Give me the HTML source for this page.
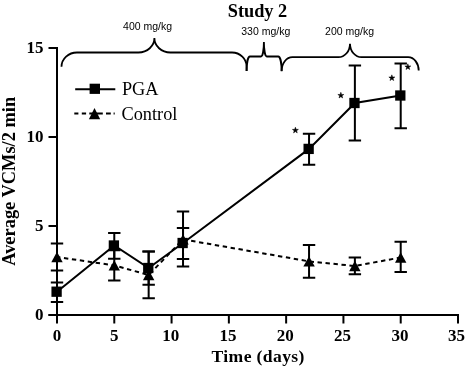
<!DOCTYPE html>
<html><head><meta charset="utf-8"><style>
html,body{margin:0;padding:0;background:#fff;}
svg{display:block;filter:grayscale(1);}
</style></head><body>
<svg width="466" height="366" viewBox="0 0 466 366">
<rect width="466" height="366" fill="#fff"/>
<g stroke="#000" stroke-width="2.0" fill="none" stroke-linecap="butt">
<path d="M57.00,47.0 V315.0 M48.5,315.0 H459.00"/>
<path d="M48.5,315.00 H57.0"/>
<path d="M48.5,226.00 H57.0"/>
<path d="M48.5,137.00 H57.0"/>
<path d="M48.5,48.00 H57.0"/>
<path d="M57.00,315.0 V323.5"/>
<path d="M114.28,315.0 V323.5"/>
<path d="M171.57,315.0 V323.5"/>
<path d="M228.86,315.0 V323.5"/>
<path d="M286.14,315.0 V323.5"/>
<path d="M343.43,315.0 V323.5"/>
<path d="M400.71,315.0 V323.5"/>
<path d="M458.00,315.0 V323.5"/>
</g>
<path d="M57.00,243.60 V270.40 M50.80,243.60 h12.4 M50.80,270.40 h12.4 M114.28,250.30 V280.50 M108.08,250.30 h12.4 M108.08,280.50 h12.4 M148.66,251.60 V298.30 M142.46,251.60 h12.4 M142.46,298.30 h12.4 M183.03,211.60 V266.50 M176.83,211.60 h12.4 M176.83,266.50 h12.4 M309.05,245.00 V277.70 M302.85,245.00 h12.4 M302.85,277.70 h12.4 M354.88,257.40 V274.30 M348.68,257.40 h12.4 M348.68,274.30 h12.4 M400.71,241.70 V272.00 M394.51,241.70 h12.4 M394.51,272.00 h12.4" stroke="#000" stroke-width="2.0" fill="none"/>
<path d="M57.00,282.50 V302.00 M50.80,282.50 h12.4 M50.80,302.00 h12.4 M114.28,232.90 V258.80 M108.08,232.90 h12.4 M108.08,258.80 h12.4 M148.66,251.60 V284.80 M142.46,251.60 h12.4 M142.46,284.80 h12.4 M183.03,228.00 V259.00 M176.83,228.00 h12.4 M176.83,259.00 h12.4 M309.05,133.80 V164.80 M302.85,133.80 h12.4 M302.85,164.80 h12.4 M354.88,65.60 V140.50 M348.68,65.60 h12.4 M348.68,140.50 h12.4 M400.71,63.60 V128.20 M394.51,63.60 h12.4 M394.51,128.20 h12.4" stroke="#000" stroke-width="2.0" fill="none"/>
<polyline points="57.00,257.00 114.28,265.40 148.66,275.00 183.03,239.40 309.05,261.40 354.88,266.00 400.71,257.50" fill="none" stroke="#000" stroke-width="2.0" stroke-dasharray="4.4 3.615" stroke-dashoffset="1"/>
<polyline points="57.00,291.70 114.28,245.50 148.66,268.00 183.03,243.00 309.05,148.90 354.88,103.00 400.71,95.50" fill="none" stroke="#000" stroke-width="2.0"/>
<path d="M57.00,251.80 L62.70,262.20 L51.30,262.20Z" fill="#000"/>
<path d="M114.28,260.20 L119.98,270.60 L108.58,270.60Z" fill="#000"/>
<path d="M148.66,269.80 L154.36,280.20 L142.96,280.20Z" fill="#000"/>
<path d="M183.03,234.20 L188.73,244.60 L177.33,244.60Z" fill="#000"/>
<path d="M309.05,256.20 L314.75,266.60 L303.35,266.60Z" fill="#000"/>
<path d="M354.88,260.80 L360.58,271.20 L349.18,271.20Z" fill="#000"/>
<path d="M400.71,252.30 L406.41,262.70 L395.01,262.70Z" fill="#000"/>
<rect x="51.45" y="286.55" width="10.3" height="10.3" fill="#000"/>
<rect x="108.73" y="240.35" width="10.3" height="10.3" fill="#000"/>
<rect x="143.11" y="262.85" width="10.3" height="10.3" fill="#000"/>
<rect x="177.48" y="237.85" width="10.3" height="10.3" fill="#000"/>
<rect x="303.50" y="143.75" width="10.3" height="10.3" fill="#000"/>
<rect x="349.33" y="97.85" width="10.3" height="10.3" fill="#000"/>
<rect x="395.16" y="90.35" width="10.3" height="10.3" fill="#000"/>
<path d="M75.2,89.2 H115.3" stroke="#000" stroke-width="2.0"/>
<rect x="89.60" y="83.70" width="10.4" height="10.2" fill="#000"/>
<path d="M74.3,113.6 H78.4 M81.8,113.6 H86.1 M89.3,113.6 H93.5 M96,113.6 H102.8 M106,113.6 H110.8 M113.6,113.6 H114.7" stroke="#000" stroke-width="2.0"/>
<path d="M94.5,107.9 L100.2,119.2 L88.9,119.2Z" fill="#000"/>
<g fill="none" stroke="#000" stroke-width="1.8">
<path d="M61.5,66.8 A15.5 14.4 0 0 1 77,52.5 H138.4 A16 14.3 0 0 0 154.4,38.1 A16 14.3 0 0 0 170.4,52.5 H232 A14.6 14 0 0 1 246.6,66.5 V71"/>
<path d="M246.6,71 A3.3 14.5 0 0 1 249.9,56.5 H261 A2.9 14.4 0 0 0 263.9,42.1 A2.9 14.4 0 0 0 266.8,56.5 H278.3 A3.3 14.5 0 0 1 281.6,71"/>
<path d="M281.6,71.2 A10.8 14 0 0 1 292.4,57.2 H338.4 A11.6 13.5 0 0 0 350,43.7 A11.6 13.5 0 0 0 361.6,57.2 H408.2 A10.5 13.4 0 0 1 418.7,70.6"/>
</g>
<text x="257.5" y="16.7" font-family="Liberation Serif" font-weight="bold" font-size="18.3" text-anchor="middle">Study 2</text>
<text x="258.2" y="361.9" font-family="Liberation Serif" font-weight="bold" font-size="17.6" letter-spacing="0.38" text-anchor="middle">Time (days)</text>
<text transform="translate(14.7,181.3) rotate(-90)" x="0" y="0" font-family="Liberation Serif" font-weight="bold" font-size="18.4" text-anchor="middle">Average VCMs/2 min</text>
<text x="57.00" y="340.6" font-family="Liberation Serif" font-weight="bold" font-size="17" text-anchor="middle">0</text>
<text x="114.28" y="340.6" font-family="Liberation Serif" font-weight="bold" font-size="17" text-anchor="middle">5</text>
<text x="170.77" y="340.6" font-family="Liberation Serif" font-weight="bold" font-size="17" text-anchor="middle">10</text>
<text x="228.06" y="340.6" font-family="Liberation Serif" font-weight="bold" font-size="17" text-anchor="middle">15</text>
<text x="285.34" y="340.6" font-family="Liberation Serif" font-weight="bold" font-size="17" text-anchor="middle">20</text>
<text x="342.62" y="340.6" font-family="Liberation Serif" font-weight="bold" font-size="17" text-anchor="middle">25</text>
<text x="399.91" y="340.6" font-family="Liberation Serif" font-weight="bold" font-size="17" text-anchor="middle">30</text>
<text x="456.60" y="340.6" font-family="Liberation Serif" font-weight="bold" font-size="17" text-anchor="middle">35</text>
<text x="43.4" y="319.90" font-family="Liberation Serif" font-weight="bold" font-size="17" text-anchor="end">0</text>
<text x="43.4" y="230.90" font-family="Liberation Serif" font-weight="bold" font-size="17" text-anchor="end">5</text>
<text x="43.4" y="141.90" font-family="Liberation Serif" font-weight="bold" font-size="17" text-anchor="end">10</text>
<text x="43.4" y="52.90" font-family="Liberation Serif" font-weight="bold" font-size="17" text-anchor="end">15</text>
<text x="121.9" y="94.7" font-family="Liberation Serif" font-size="18.3">PGA</text>
<text x="121.5" y="119.6" font-family="Liberation Serif" font-size="18.3">Control</text>
<text x="147.6" y="30.1" font-family="Liberation Sans" font-size="10.5" text-anchor="middle">400 mg/kg</text>
<text x="265.8" y="34.7" font-family="Liberation Sans" font-size="10.5" text-anchor="middle">330 mg/kg</text>
<text x="349.6" y="35.1" font-family="Liberation Sans" font-size="10.5" text-anchor="middle">200 mg/kg</text>
<polygon points="295.40,127.20 296.13,129.34 298.40,129.38 296.59,130.74 297.25,132.90 295.40,131.60 293.55,132.90 294.21,130.74 292.40,129.38 294.67,129.34" fill="#000" stroke="#000" stroke-width="0.5" stroke-linejoin="round"/>
<polygon points="340.85,92.30 341.58,94.44 343.85,94.48 342.04,95.84 342.70,98.00 340.85,96.70 339.00,98.00 339.66,95.84 337.85,94.48 340.12,94.44" fill="#000" stroke="#000" stroke-width="0.5" stroke-linejoin="round"/>
<polygon points="391.85,74.85 392.58,76.99 394.85,77.03 393.04,78.39 393.70,80.55 391.85,79.25 390.00,80.55 390.66,78.39 388.85,77.03 391.12,76.99" fill="#000" stroke="#000" stroke-width="0.5" stroke-linejoin="round"/>
<polygon points="407.85,63.80 408.58,65.94 410.85,65.98 409.04,67.34 409.70,69.50 407.85,68.20 406.00,69.50 406.66,67.34 404.85,65.98 407.12,65.94" fill="#000" stroke="#000" stroke-width="0.5" stroke-linejoin="round"/>
</svg>
</body></html>
